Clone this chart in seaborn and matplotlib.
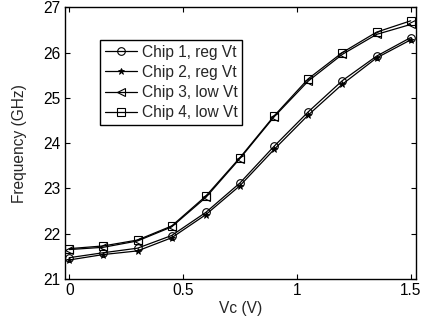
import numpy as np
import pandas as pd
import matplotlib
matplotlib.use("Agg")
import matplotlib.pyplot as plt
import seaborn as sns

vc = [0, 0.15, 0.3, 0.45, 0.6, 0.75, 0.9, 1.05, 1.2, 1.35, 1.5]
chip1 = [21.47, 21.58, 21.68, 21.96, 22.47, 23.12, 23.93, 24.69, 25.38, 25.92, 26.33]
chip2 = [21.42, 21.54, 21.62, 21.91, 22.42, 23.06, 23.86, 24.62, 25.30, 25.88, 26.28]
chip3 = [21.65, 21.70, 21.84, 22.15, 22.80, 23.66, 24.58, 25.37, 25.96, 26.40, 26.62]
chip4 = [21.67, 21.73, 21.86, 22.17, 22.83, 23.68, 24.60, 25.42, 26.00, 26.45, 26.70]
labels = ["Chip 1, reg Vt", "Chip 2, reg Vt", "Chip 3, low Vt", "Chip 4, low Vt"]
xticks = [0, 0.5, 1, 1.5]
xticklabels = ["0", "0.5", "1", "1.5"]
yticks = [21, 22, 23, 24, 25, 26, 27]

sns.set_theme(style="ticks")
plt.rcParams['font.family'] = ['Liberation Sans', 'DejaVu Sans']

fig = plt.figure(figsize=(4.27, 3.29), dpi=100)
ax = fig.add_axes([0.152, 0.152, 0.822, 0.826])

series = [chip1, chip2, chip3, chip4]
markers = ["o", "*", "<", "s"]
msizes = [5.5, 4.5, 5.5, 5.5]
for vals, lab, m, ms in zip(series, labels, markers, msizes):
    df = pd.DataFrame({"Vc": vc, "Freq": vals})
    if m == "*":
        sns.lineplot(data=df, x="Vc", y="Freq", ax=ax, color="black", lw=0.9,
                     marker=m, markersize=ms, markerfacecolor="black",
                     markeredgecolor="black", markeredgewidth=0.6, label=lab)
    else:
        sns.lineplot(data=df, x="Vc", y="Freq", ax=ax, color="black", lw=0.9,
                     marker=m, markersize=ms, markerfacecolor="none",
                     markeredgecolor="black", markeredgewidth=0.8, label=lab)

ax.set_xlim(-0.019, 1.523)
ax.set_ylim(21, 27)
ax.set_xticks(xticks)
ax.set_xticklabels(xticklabels)
ax.set_yticks(yticks)
ax.tick_params(direction="in", length=3.5, width=0.8, top=True, right=True,
               labelsize=11.2, colors="black", pad=3)
for s in ax.spines.values():
    s.set_visible(True)
    s.set_linewidth(1.0)
    s.set_color("black")
ax.set_xlabel("Vc (V)", fontsize=11.2, labelpad=2)
ax.set_ylabel("Frequency (GHz)", fontsize=11.2, labelpad=12)

leg = ax.legend(loc="upper left", bbox_to_anchor=(0.0997, 0.88), fontsize=11.2,
                frameon=True, fancybox=False, framealpha=1, edgecolor="black",
                borderpad=0.3, labelspacing=0.34, handlelength=2.1,
                handletextpad=0.3, borderaxespad=0)
leg.get_frame().set_linewidth(1.0)

fig.savefig("out.png", dpi=100)
